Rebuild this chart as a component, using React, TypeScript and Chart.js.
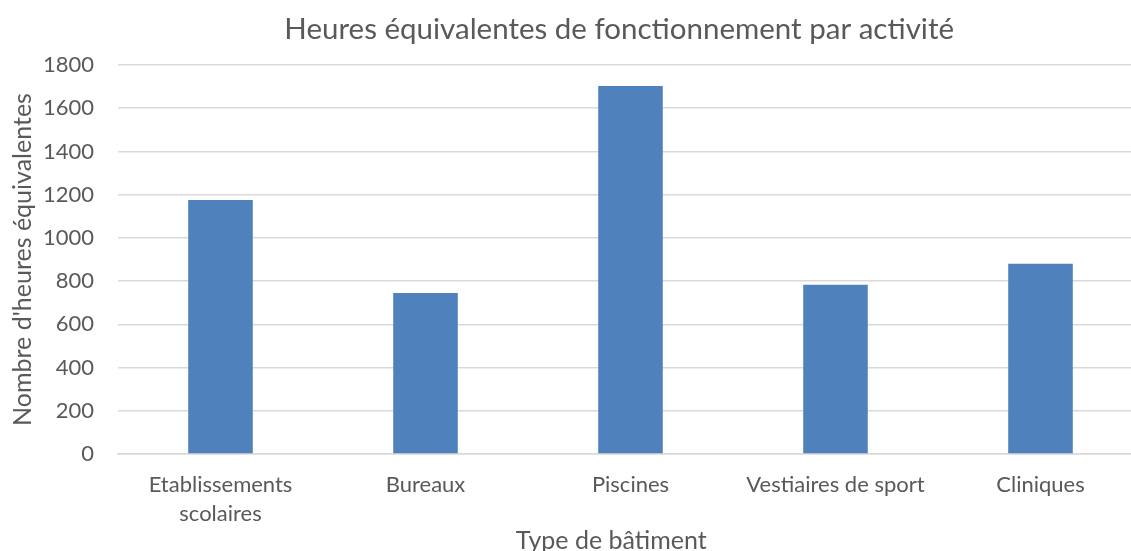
import React, { useEffect, useRef } from "react";
import { Chart, registerables } from "chart.js";

Chart.register(...registerables);

const chartTitle = "Heures équivalentes de fonctionnement par activité";
const xAxisTitle = "Type de bâtiment";
const yAxisTitle = "Nombre d'heures équivalentes";
const categories: (string | string[])[] = [
  ["Etablissements", "scolaires"],
  "Bureaux",
  "Piscines",
  "Vestiaires de sport",
  "Cliniques",
];
const hours = [1175, 745, 1703, 783, 880];
const yMin = 0;
const yMax = 1800;
const yStep = 200;

const TEXT = "#595959";
const GRID = "#d9d9d9";
const BAR = "#4f81bd";
const FONT = "Lato";

export default function App() {
  const ref = useRef<HTMLCanvasElement | null>(null);

  useEffect(() => {
    if (!ref.current) return;
    Chart.defaults.font.family = FONT;
    const chart = new Chart(ref.current, {
      type: "bar",
      data: {
        labels: categories,
        datasets: [
          {
            data: hours,
            backgroundColor: BAR,
            borderWidth: 0,
            barPercentage: 0.315,
            categoryPercentage: 1,
          },
        ],
      },
      options: {
        responsive: false,
        animation: false,
        devicePixelRatio: 1,
        layout: { padding: { left: 0, right: 102, top: 0, bottom: 0 } },
        plugins: {
          legend: { display: false },
          tooltip: { enabled: false },
          title: {
            display: true,
            fullSize: false,
            text: chartTitle + "   ",
            color: TEXT,
            font: { family: FONT, size: 29.5, weight: "normal", lineHeight: 1.2 },
            padding: { top: 12, bottom: 17.6 },
          },
        },
        scales: {
          x: {
            grid: { display: false, drawTicks: false },
            border: { display: true, color: GRID, width: 1.5 },
            ticks: {
              color: TEXT,
              font: { family: FONT, size: 22, lineHeight: 1.3 },
              padding: 17,
              maxRotation: 0,
              minRotation: 0,
              autoSkip: false,
            },
            title: {
              display: true,
              text: xAxisTitle + "      ",
              color: TEXT,
              font: { family: FONT, size: 25, lineHeight: 1.2 },
              padding: { top: 0, bottom: 0 },
            },
            afterFit: (s: any) => {
              s.height = 102;
            },
          },
          y: {
            min: yMin,
            max: yMax,
            grid: { color: GRID, lineWidth: 1.5, drawTicks: false },
            border: { display: false },
            ticks: {
              stepSize: yStep,
              color: TEXT,
              font: { family: FONT, size: 22 },
              padding: 24,
              callback: (v: any) => String(v),
            },
            title: {
              display: true,
              text: yAxisTitle,
              color: TEXT,
              font: { family: FONT, size: 25, lineHeight: 1.2 },
              padding: { top: 8, bottom: 0 },
            },
            afterFit: (s: any) => {
              s.width = 118;
            },
          },
        },
      },
    });
    return () => chart.destroy();
  }, []);

  return (
    <div
      style={{
        position: "absolute",
        left: 0,
        top: 0,
        width: 1131,
        height: 551,
        overflow: "hidden",
        background: "#fff",
      }}
    >
      <canvas ref={ref} width={1245} height={556} style={{ display: "block", width: 1245, height: 556 }} />
    </div>
  );
}
